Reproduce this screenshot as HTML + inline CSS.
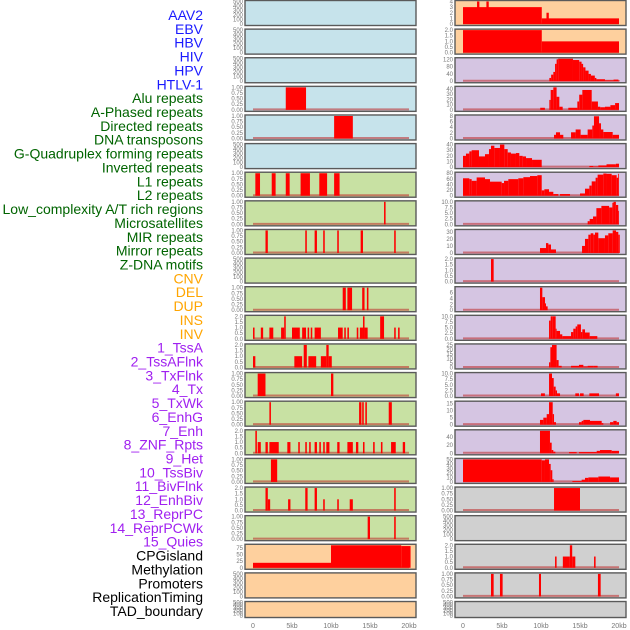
<!DOCTYPE html>
<html><head><meta charset="utf-8"><style>
html,body{margin:0;padding:0;background:#fff;width:630px;height:630px;overflow:hidden}
svg{display:block}
text{font-family:"Liberation Sans",sans-serif}
</style></head><body>
<svg id="chart" width="630" height="630" viewBox="0 0 630 630" xmlns="http://www.w3.org/2000/svg"></svg>
<script>
// ---- data ----
const trackLabels = ["AAV2","EBV","HBV","HIV","HPV","HTLV-1","Alu repeats","A-Phased repeats","Directed repeats","DNA transposons","G-Quadruplex forming repeats","Inverted repeats","L1 repeats","L2 repeats","Low_complexity A/T rich regions","Microsatellites","MIR repeats","Mirror repeats","Z-DNA motifs","CNV","DEL","DUP","INS","INV","1_TssA","2_TssAFlnk","3_TxFlnk","4_Tx","5_TxWk","6_EnhG","7_Enh","8_ZNF_Rpts","9_Het","10_TssBiv","11_BivFlnk","12_EnhBiv","13_ReprPC","14_ReprPCWk","15_Quies","CPGisland","Methylation","Promoters","ReplicationTiming","TAD_boundary"];
const labelColors = ["#1a1aff","#1a1aff","#1a1aff","#1a1aff","#1a1aff","#1a1aff","#006400","#006400","#006400","#006400","#006400","#006400","#006400","#006400","#006400","#006400","#006400","#006400","#006400","#ffa500","#ffa500","#ffa500","#ffa500","#ffa500","#a020f0","#a020f0","#a020f0","#a020f0","#a020f0","#a020f0","#a020f0","#a020f0","#a020f0","#a020f0","#a020f0","#a020f0","#a020f0","#a020f0","#a020f0","#000","#000","#000","#000","#000"];
const xTicks = [0,5,10,15,20];
const xTickLabels = ["0","5kb","10kb","15kb","20kb"];
const T500 = [0,100,200,300,400,500];
const T1 = [0,0.25,0.5,0.75,1];
const T2 = [0,0.5,1,1.5,2];
// left column panels: segments [startKb, endKb, value]
const L0 = [], L1 = [], L2 = [];
const L3 = [[4.2,6.8,1]];
const L4 = [[10.4,12.8,1]];
const L5 = [];
const L6 = [[0.3,0.9,1],[2.4,2.9,1],[4.2,4.7,1],[6.1,7.3,1],[8.5,9.5,1],[10.4,11.1,1]];
const L7 = [[16.8,17.0,1]];
const L8 = [[1.6,1.9,1],[6.7,6.9,1],[7.9,8.2,1],[9.0,9.2,1],[10.8,11.0,1],[13.8,14.1,1],[18.1,18.3,1]];
const L9 = [];
const L10 = [[11.5,11.9,1],[12.1,12.7,1],[14.0,14.3,1],[14.6,14.8,1]];
const L11 = [[0,0.2,1],[1.0,1.3,1],[2.1,2.6,1],[3.6,4.0,1],[4.0,4.2,2],[5.0,6.0,1],[6.3,6.8,1],[7.0,7.2,1],[7.4,7.6,1],[7.9,8.7,1],[10.9,11.5,1],[11.7,11.9,1],[12.1,12.3,1],[13.3,13.5,1],[13.7,14.1,1],[14.1,14.3,2],[14.3,14.7,1],[16.3,16.8,2],[18.1,18.3,1],[18.6,18.8,1]];
const L12 = [[0,0.3,1],[5.3,6.3,1],[6.5,6.9,2],[7.1,8.1,1],[8.7,9.4,1],[9.4,9.7,2],[9.7,10.1,1]];
const L13 = [[0.6,1.6,1],[10.0,10.3,1]];
const L14 = [[2.1,2.3,1],[13.6,13.9,1],[14.0,14.2,1],[14.4,14.6,1],[17.4,17.8,1]];
const L15 = [[0.3,0.5,2],[0.6,1.0,1],[1.6,1.9,1],[2.1,3.3,1],[4.4,4.8,1],[5.8,6.0,1],[6.7,6.9,1],[7.2,7.4,1],[7.9,8.2,1],[8.5,8.7,1],[9.0,9.2,1],[9.4,9.8,1],[10.8,11.1,1],[12.1,12.8,1],[13.2,13.5,1],[14.1,14.3,1],[15.4,15.6,1],[16.4,16.6,1],[17.7,18.3,1],[19.2,19.5,1]];
const L16 = [[2.3,3.1,1]];
const L17 = [[1.6,1.9,2],[1.9,2.2,1],[4.5,4.8,1],[6.7,7.0,2],[7.9,8.2,2],[9.0,9.2,1],[10.8,11.0,1],[12.4,12.8,1],[18.1,18.3,2]];
const L18 = [[14.7,15.0,1],[18.1,18.3,1]];
const L19 = [[0,10,19],[10,19,88],[19,20.2,83]];
const L20 = [], L21 = [];
// right column panels
const R0 = [[0,10.1,3],[1.8,2.1,4],[3.0,3.3,4],[10.1,20,1],[10.7,11.0,2]];
const R1 = [[0,10.1,2],[10.1,20,1]];
const R2 = [[11.07,11.3,18],[11.3,11.58,36],[11.58,11.8,51],[11.8,12.0,95],[12.0,12.2,120],[12.2,14.1,127],[14.1,14.9,116],[14.9,15.2,107],[15.2,15.4,95],[15.4,15.7,76],[15.7,16.1,58],[16.1,16.4,40],[16.4,16.9,31],[16.9,17.1,18],[17.1,18.2,11],[18.2,19.3,5],[19.3,19.9,9],[19.9,20.1,4]];
const R3 = [[9.9,10.5,4],[11.07,11.24,19],[11.24,11.58,38],[11.58,12.0,44],[12.0,12.35,25],[12.35,12.78,6],[13.5,14.66,4],[14.66,14.9,16],[14.9,15.3,29],[15.3,16.5,38],[16.5,17.3,16],[17.3,17.6,6],[17.6,18.2,5],[18.2,18.9,6],[18.9,19.5,9],[19.5,20.0,13]];
const R4 = [[11.67,11.92,1.3],[11.92,12.44,2.2],[12.44,12.86,1.3],[13.85,14.44,2.2],[14.44,15.08,3.2],[15.08,15.98,1.3],[15.98,16.58,3.2],[16.58,16.79,4.6],[16.79,17.44,7.9],[17.44,17.69,5.4],[17.69,17.99,3.2],[17.99,19.19,2.3],[19.19,20.0,1.3]];
const R5 = [[0,0.38,20],[0.38,0.81,24],[0.81,1.11,28],[1.11,2.05,30],[2.05,2.82,19],[2.82,3.33,23],[3.33,3.59,32],[3.59,4.02,38],[4.02,4.74,34],[4.74,5.3,41],[5.3,5.73,32],[5.73,6.15,26],[6.15,6.79,24],[6.79,7.22,25],[7.22,7.65,20],[7.65,8.08,19],[8.08,8.85,16],[8.85,10.09,13],[16.2,16.7,2],[16.7,17.35,1],[17.35,18.4,3],[18.4,19.6,5],[19.6,20.0,6]];
const R6 = [[0,0.81,62],[0.81,1.11,59],[1.11,1.75,53],[1.75,2.82,65],[2.82,3.46,59],[3.46,4.96,50],[4.96,5.26,45],[5.26,5.81,53],[5.81,7.09,59],[7.09,7.74,62],[7.74,8.59,66],[8.59,9.53,70],[9.53,10.09,73],[10.09,10.43,19],[10.43,11.03,23],[11.03,11.58,14],[11.58,12.22,6],[12.44,13.72,6],[15.0,15.64,8],[15.64,16.2,25],[16.2,16.5,36],[16.5,17.0,51],[17.0,17.26,64],[17.26,17.99,75],[17.99,18.4,79],[18.4,19.06,78],[19.06,19.7,73],[19.7,19.9,64],[19.9,20.0,78]];
const R7 = [[15.98,16.24,1.4],[16.24,16.67,2.4],[16.67,17.1,3.5],[17.1,17.74,7.2],[17.74,18.73,8.2],[18.73,19.15,7.5],[19.15,19.3,9.6],[19.3,19.6,10],[19.6,19.9,8.6],[19.9,20.0,6]];
const R8 = [[9.87,10.64,7],[10.64,10.94,14],[10.94,11.28,12],[11.28,11.92,5],[15.26,15.64,10],[15.64,16.07,20],[16.07,16.37,26],[16.37,16.71,28],[16.71,16.92,26],[16.92,17.35,29],[17.35,18.2,21],[18.2,18.63,25],[18.63,19.19,28],[19.19,19.62,32],[19.62,19.91,30],[19.91,20.1,26]];
const R9 = [[3.59,3.93,2]];
const R10 = [[9.87,10.17,7.6],[10.17,10.51,4.4],[10.51,10.64,2.3],[10.64,10.85,1.3]];
const R11 = [[11.03,11.24,8.1],[11.24,11.5,10],[11.5,11.88,10.6],[11.88,12.0,4.5],[12.0,12.44,3.5],[12.44,12.73,2],[12.73,13.85,1.2],[13.85,14.14,3],[14.14,14.44,4.5],[14.44,14.65,5.5],[14.65,15.12,6.4],[15.12,15.3,3],[15.3,15.64,4.2],[15.64,16.24,2.8],[16.24,17.22,1.2]];
const R12 = [[11.03,11.2,5.7],[11.2,11.41,22.5],[11.41,12.0,25],[12.0,12.26,8.2],[12.26,12.65,1.8],[13.85,14.87,1.8],[14.87,15.43,2.9],[15.43,15.98,1],[15.98,16.7,1.8],[16.7,17.26,1.8]];
const R13 = [[10.0,10.5,1.2],[11.03,11.41,10],[11.41,11.63,8],[11.63,11.88,4.2],[11.88,12.05,2.5],[12.05,12.44,1.2],[14.4,14.87,1.2],[15.0,15.47,1.2],[16.2,17.44,1.2],[19.6,20.0,1.2]];
const R14 = [[9.87,10.3,3.4],[10.3,10.73,5],[10.73,11.03,7.5],[11.03,11.5,16.4],[11.5,11.67,7.5],[11.67,11.92,1.8],[14.87,15.21,1.8],[15.21,15.43,2.7],[15.43,16.28,3.4],[16.28,17.78,2.7],[17.78,17.99,1.1],[18.85,19.27,1.8],[19.27,19.7,2.7],[19.7,20.0,1.8]];
const R15 = [[9.87,11.15,55],[11.15,11.37,26],[11.37,11.58,8],[11.58,11.84,4],[13.6,14.57,3],[14.87,17.14,3],[17.14,17.56,6],[17.56,19.06,8],[19.06,20.0,6]];
const R16 = [[0,10.09,50],[10.09,10.51,48],[10.51,11.03,50],[11.03,11.24,40],[11.24,11.45,26],[11.45,11.62,6],[14.02,15.21,2],[15.21,15.64,5],[15.64,16.07,9],[16.07,17.35,10],[17.35,18.85,12],[18.85,20.0,10]];
const R17 = [[11.67,15.0,1]];
const R18 = [];
const R19 = [[11.8,12.0,1],[12.8,13.7,1],[13.7,14.0,2],[14.0,14.4,1],[16.8,17.0,1]];
const R20 = [[3.59,3.93,1],[4.74,5.08,1],[9.74,10.0,1],[17.3,17.65,1]];
const R21 = [];
// per-panel axis limits and tick values
const leftMax = [500,500,500,1,1,500,1,1,1,500,1,2,2,1,1,2,1,2,1,86,500,500];
const rightMax = [4,2,123,43,8,40,80,10,32,2,7.6,10,25,10,16,55,50,1,500,2,1,500];
const leftTicks = [T500,T500,T500,T1,T1,T500,T1,T1,T1,T500,T1,T2,T2,T1,T1,T2,T1,T2,T1,[0,25,50,75],T500,T500];
const rightTicks = [[0,1,2,3,4],T2,[0,40,80,120],[0,10,20,30,40],[0,2,4,6,8],[0,10,20,30,40],[0,20,40,60,80],[0,2.5,5,7.5,10],[0,10,20,30],T2,[0,2,4,6],[0,2.5,5,7.5,10],[0,5,10,15,20,25],[0,2.5,5,7.5,10],[0,5,10,15],[0,20,40],[0,10,20,30,40,50],T1,T500,T2,T1,T500];
const leftData = [L0,L1,L2,L3,L4,L5,L6,L7,L8,L9,L10,L11,L12,L13,L14,L15,L16,L17,L18,L19,L20,L21];
const rightData = [R0,R1,R2,R3,R4,R5,R6,R7,R8,R9,R10,R11,R12,R13,R14,R15,R16,R17,R18,R19,R20,R21];
const leftBg = ["#c6e3eb","#c6e3eb","#c6e3eb","#c6e3eb","#c6e3eb","#c6e3eb","#c8e1a3","#c8e1a3","#c8e1a3","#c8e1a3","#c8e1a3","#c8e1a3","#c8e1a3","#c8e1a3","#c8e1a3","#c8e1a3","#c8e1a3","#c8e1a3","#c8e1a3","#fed09e","#fed09e","#fed09e"];
const rightBg = ["#fed09e","#fed09e","#d5c5e2","#d5c5e2","#d5c5e2","#d5c5e2","#d5c5e2","#d5c5e2","#d5c5e2","#d5c5e2","#d5c5e2","#d5c5e2","#d5c5e2","#d5c5e2","#d5c5e2","#d5c5e2","#d5c5e2","#d0d0d0","#d0d0d0","#d0d0d0","#d0d0d0","#d0d0d0"];

// ---- drawing ----
const NS = "http://www.w3.org/2000/svg";
const svg = document.getElementById("chart");
function mk(tag, attrs, parent) {
  const e = document.createElementNS(NS, tag);
  for (const k in attrs) e.setAttribute(k, attrs[k]);
  (parent || svg).appendChild(e);
  return e;
}
// labels
trackLabels.forEach((t, i) => {
  const el = mk("text", {x: 203, y: 15 + i * 13.86 + 5, "text-anchor": "end", "font-size": 14, fill: labelColors[i]});
  
  
  el.textContent = t;
});
const cols = [
  {x0: 245, x1: 416, data: leftData, max: leftMax, ticks: leftTicks, bg: leftBg, name: "left"},
  {x0: 455, x1: 626, data: rightData, max: rightMax, ticks: rightTicks, bg: rightBg, name: "right"}
];
function fmt(v, ticks) {
  const step = ticks.length > 1 ? ticks[1] - ticks[0] : 1;
  if (step === 0.25) return v.toFixed(2);
  if (step === 0.5 || step === 2.5) return v.toFixed(1);
  return String(v);
}
cols.forEach(c => {
  const xs = kb => c.x0 + 8 + kb * 7.8;
  for (let i = 0; i < 22; i++) {
    const top = i * 28.62 + 0.5;
    const h = i === 21 ? 16 : 25;
    const zero = top + h - 1.5;
    const ymax = c.max[i];
    const ys = v => zero - (Math.min(v, ymax) / ymax) * (h - 2.5);
    const g = mk("g", {});
    
    
    const bg = mk("rect", {x: c.x0, y: top, width: c.x1 - c.x0, height: h, fill: c.bg[i], stroke: "#5a5a5a", "stroke-width": 1.4}, g);
    
    
    // ticks
    c.ticks[i].forEach(tv => {
      const tl = mk("text", {x: c.x0 - 2, y: ys(tv) + 2, "text-anchor": "end", "font-size": 6, fill: "#777"}, g);
      
      
      tl.textContent = fmt(tv, c.ticks[i]);
    });
    if (ymax !== 500) {
      const bl = mk("line", {x1: xs(0), x2: xs(20), y1: zero - 0.5, y2: zero - 0.5, stroke: "rgba(190,40,40,0.55)", "stroke-width": 2}, g);
      
      
    }
    c.data[i].forEach(s => {
      const y = ys(s[2]);
      const b = mk("rect", {x: xs(s[0]), y: y, width: Math.max(0.8, xs(s[1]) - xs(s[0])), height: zero - y, fill: "#ff0000"}, g);
      
      
    });
  }
  xTicks.forEach((t, j) => {
    const tl = mk("text", {x: xs(t), y: 628, "text-anchor": "middle", "font-size": 7, fill: "#777"});
    
    
    tl.textContent = xTickLabels[j];
  });
});
</script>
</body></html>
